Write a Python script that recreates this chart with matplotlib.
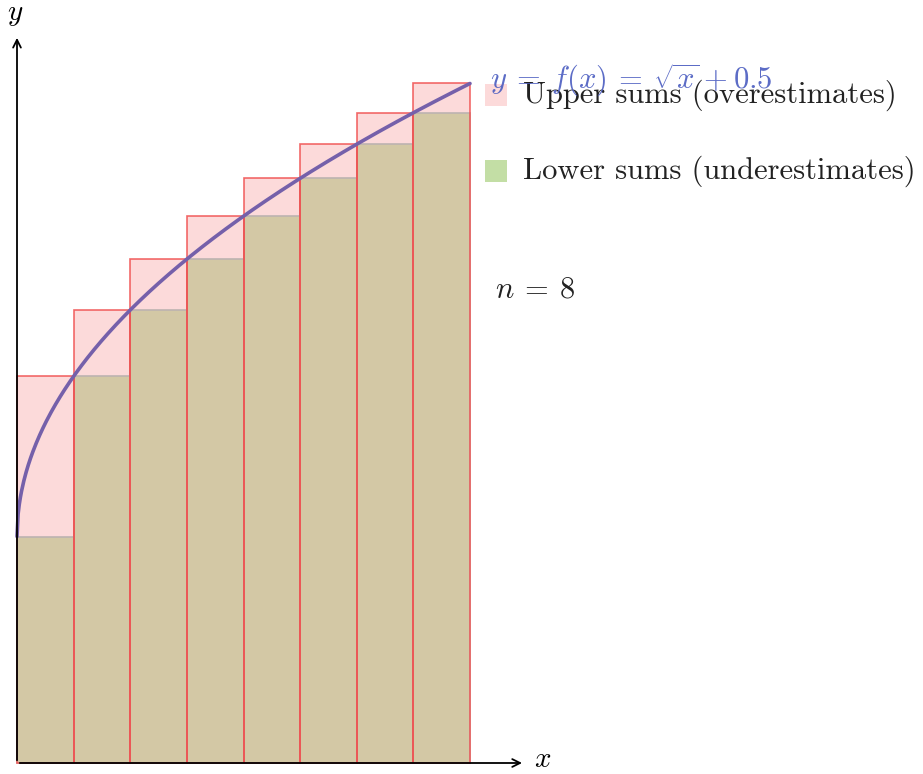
import numpy as np
import matplotlib
matplotlib.use("Agg")
from matplotlib import pyplot as plt
from matplotlib.patches import Rectangle

plt.rcParams['mathtext.fontset'] = 'cm'
plt.rcParams['font.family'] = ['cmr10', 'DejaVu Serif']
plt.rcParams['axes.unicode_minus'] = False

# intervalo y particion
a, b = 0.0, 1.0
n = 8
labels = ["Upper sums (overestimates)", "Lower sums (underestimates)"]
curve_label = r"$y\:=\:f(x)\:=\:\sqrt{x}\:+\:0.5$"


def f(x):
    return np.sqrt(x) + 0.5


edges = np.linspace(a, b, n + 1)
ancho = edges[1] - edges[0]
superior = f(edges[1:])   # f creciente: maximo a la derecha
inferior = f(edges[:-1])  # minimo a la izquierda

# colores
rosa = "#fcdada"
rojo = "#f05050"
tostado = "#d3c8a5"
verde = "#c3dea5"
violeta = "#7560aa"
azul = "#4a5cc0"

fig = plt.figure(figsize=(9.23, 7.74), dpi=100)
ax = fig.add_axes([0, 0, 1, 1])
esc = 453.0
ax.set_xlim(-17 / esc, (923 - 17) / esc)
ax.set_ylim(-(774 - 763) / esc, 763 / esc)
ax.axis('off')

# sumas superiores (relleno)
for x0, h in zip(edges[:-1], superior):
    ax.add_patch(Rectangle((x0, 0), ancho, h, facecolor=rosa,
                           edgecolor='none', zorder=1))

# sumas inferiores
for x0, h in zip(edges[:-1], inferior):
    ax.add_patch(Rectangle((x0, 0), ancho, h, facecolor=tostado,
                           edgecolor='#bdb3b0', lw=1.2, zorder=2))

# contornos de las sumas superiores
for x0, h in zip(edges[:-1], superior):
    ax.add_patch(Rectangle((x0, 0), ancho, h, facecolor='none',
                           edgecolor=rojo, lw=1.2, alpha=0.85, zorder=3))

# la funcion
xs = np.linspace(a, b, 400)
ax.plot(xs, f(xs), color=violeta, lw=2.6, zorder=4, solid_capstyle='round')

# ejes con flechas
ax.annotate("", xy=(1.121, 0), xytext=(0, 0),
            arrowprops=dict(arrowstyle="->", color='black', lw=1.3,
                            mutation_scale=14), zorder=5)
ax.annotate("", xy=(0, 1.607), xytext=(0, 0),
            arrowprops=dict(arrowstyle="->", color='black', lw=1.3,
                            mutation_scale=14), zorder=5)
ax.text((543 - 17) / esc, 3 / esc, r"$x$", fontsize=21, ha='center', va='center')
ax.text(-0.004, (763 - 15) / esc, r"$y$", fontsize=21, ha='center', va='center')

# leyenda
sq = 22 / esc
for yc, col, txt in [((763 - 95) / esc, rosa, labels[0]),
                     ((763 - 171) / esc, verde, labels[1])]:
    ax.add_patch(Rectangle(((485 - 17) / esc, yc - sq / 2), sq, sq,
                           facecolor=col, edgecolor='none', zorder=6))
    ax.text((523 - 17) / esc, yc, txt, fontsize=22, color='#222222',
            ha='left', va='center', zorder=7)

ax.text((495 - 17) / esc, (763 - 290) / esc, r"$n\:=\:%d$" % n, fontsize=22,
        color='#222222', ha='left', va='center')

ax.text((490 - 17) / esc, (763 - 80) / esc, curve_label, fontsize=22,
        color=azul, alpha=0.9, ha='left', va='center', zorder=8)

fig.savefig("out.png", dpi=100)
